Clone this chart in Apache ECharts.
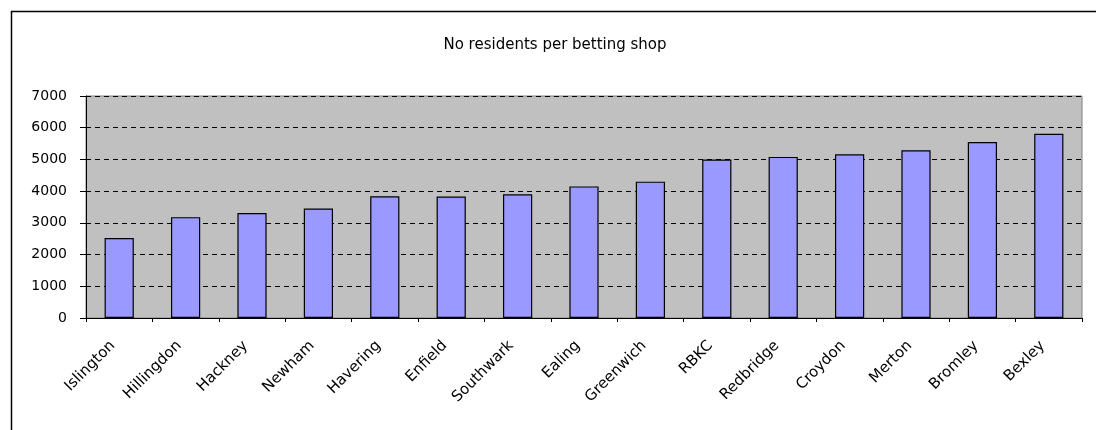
<!DOCTYPE html>
<html>
<head>
<meta charset="utf-8">
<script src="https://cdn.jsdelivr.net/npm/echarts@6/dist/echarts.min.js"></script>
<style>
  html, body { margin: 0; padding: 0; background: #fff; }
  #chart { width: 1096px; height: 430px; }
</style>
</head>
<body>
<div id="chart"></div>
<script>
// London boroughs and their number of residents per betting shop
const boroughs = ['Islington', 'Hillingdon', 'Hackney', 'Newham', 'Havering', 'Enfield', 'Southwark',
  'Ealing', 'Greenwich', 'RBKC', 'Redbridge', 'Croydon', 'Merton', 'Bromley', 'Bexley'];
const residentsPerShop = [2520, 3180, 3310, 3450, 3840, 3830, 3900, 4150, 4300, 5000, 5080, 5160, 5290, 5550, 5810];
const yTicks = [0, 1000, 2000, 3000, 4000, 5000, 6000, 7000];

const chart = echarts.init(document.getElementById('chart'), null, { renderer: 'canvas' });
const font = '"DejaVu Sans", Verdana, sans-serif';

chart.setOption({
  animation: false,
  backgroundColor: '#ffffff',
  title: {
    text: 'No residents per betting shop',
    left: 550, top: 33, textAlign: 'center',
    textStyle: { fontFamily: font, fontSize: 15, fontWeight: 'normal', color: '#000' }
  },
  grid: {
    left: 86, right: 14, top: 96, bottom: 112,
    show: true, backgroundColor: '#c0c0c0', borderColor: '#808080', borderWidth: 1
  },
  graphic: [{
    type: 'polyline',
    shape: { points: [[11.5, 440], [11.5, 11.5], [1100, 11.5]] },
    style: { stroke: '#000', lineWidth: 1.5, fill: null }
  }],
  xAxis: {
    type: 'category',
    data: boroughs,
    axisLine: { show: true, lineStyle: { color: '#000', width: 1 } },
    axisTick: { show: true, length: 4, lineStyle: { color: '#000' } },
    axisLabel: {
      rotate: 45, interval: 0, margin: 19, padding: [0, 9, 0, 0],
      fontFamily: font, fontSize: 15, color: '#000'
    },
    splitLine: { show: false }
  },
  yAxis: [{
    type: 'value',
    min: yTicks[0], max: yTicks[yTicks.length - 1], interval: 1000,
    axisLine: { show: true, lineStyle: { color: '#000', width: 1 } },
    axisTick: { show: true, inside: false, length: 6, lineStyle: { color: '#000' } },
    axisLabel: {
      fontFamily: font, fontSize: 14, color: '#000', margin: 19,
      formatter: v => String(v)
    },
    splitLine: { show: true, lineStyle: { color: '#000', type: [5, 4], width: 1 } }
  }, {
    // short inner half of the cross ticks on the value axis
    type: 'value', position: 'left',
    min: yTicks[0], max: yTicks[yTicks.length - 1], interval: 1000,
    axisLine: { show: false },
    axisTick: { show: true, inside: true, length: 3, lineStyle: { color: '#000' } },
    axisLabel: { show: false },
    splitLine: { show: false }
  }],
  series: [{
    type: 'bar',
    data: residentsPerShop,
    barWidth: '44%',
    itemStyle: { color: '#9999ff', borderColor: '#000', borderWidth: 1.2 }
  }]
});
</script>
</body>
</html>
